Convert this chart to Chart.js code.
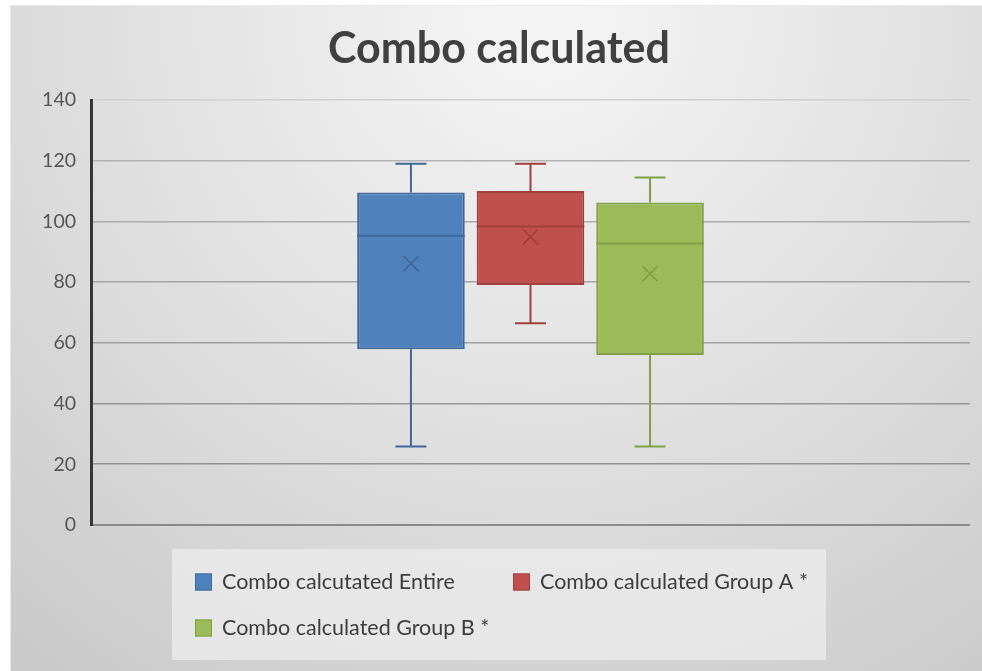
<!DOCTYPE html>
<html>
<head>
<meta charset="utf-8">
<script src="https://cdn.jsdelivr.net/npm/chart.js@4/dist/chart.umd.min.js"></script>
<style>
  html, body { margin: 0; padding: 0; background: #ffffff; }
  #wrap { position: absolute; left: 0; top: 0; width: 982px; height: 671px; }
</style>
</head>
<body>
<div id="wrap"><canvas id="chart" width="982" height="671"></canvas></div>
<script>
// Box-and-whisker summary values per series
const categories = [''];
const seriesLabels = ['Combo calcutated Entire', 'Combo calculated Group A *', 'Combo calculated Group B *'];
const whiskerLow  = [25.9, 66.5, 25.9];
const quartile1   = [57.9, 79.1, 56.0];
const medians     = [95.3, 98.3, 92.7];
const quartile3   = [109.5, 110.0, 106.2];
const whiskerHigh = [119.0, 119.0, 114.5];
const means       = [86.1, 94.9, 82.8];
const yTickValues = [0, 20, 40, 60, 80, 100, 120, 140];

const fillColors   = ['#4f81bd', '#c0504d', '#9bbb59'];
const strokeColors = ['#3f6898', '#a23e3b', '#80a047'];
const FONT = 'Lato, "Open Sans", sans-serif';

// Page background: soft grey radial gradient inside a thin frame
const backgroundPlugin = {
  id: 'panelBackground',
  beforeDraw(chart) {
    const ctx = chart.ctx;
    ctx.save();
    ctx.fillStyle = '#ffffff';
    ctx.fillRect(0, 0, chart.width, chart.height);
    const g = ctx.createRadialGradient(540, 10, 40, 540, 10, 900);
    g.addColorStop(0, '#f4f4f4');
    g.addColorStop(0.45, '#e0e0e0');
    g.addColorStop(1, '#c6c6c6');
    ctx.fillStyle = g;
    ctx.fillRect(10, 5, chart.width - 10, chart.height - 5);
    ctx.strokeStyle = '#e9e9e9';
    ctx.lineWidth = 1;
    ctx.strokeRect(10.5, 5.5, chart.width - 10, chart.height - 5);
    ctx.restore();
  }
};

// Whiskers, caps, median line and mean marker for each box
const boxDetailsPlugin = {
  id: 'boxDetails',
  afterDatasetsDraw(chart) {
    const ctx = chart.ctx;
    const y = chart.scales.y;
    chart.data.datasets.forEach((ds, i) => {
      const meta = chart.getDatasetMeta(i);
      if (meta.hidden) return;
      const el = meta.data[0];
      const cx = el.x;
      const half = el.width / 2;
      const capHalf = 15.5;
      const yLow = y.getPixelForValue(whiskerLow[i]);
      const yQ1 = y.getPixelForValue(quartile1[i]);
      const yMed = y.getPixelForValue(medians[i]);
      const yQ3 = y.getPixelForValue(quartile3[i]);
      const yHigh = y.getPixelForValue(whiskerHigh[i]);
      const yMean = y.getPixelForValue(means[i]);
      ctx.save();
      ctx.strokeStyle = strokeColors[i];
      ctx.lineWidth = 2;
      ctx.beginPath();
      // upper whisker and cap
      ctx.moveTo(cx, yQ3); ctx.lineTo(cx, yHigh);
      ctx.moveTo(cx - capHalf, yHigh); ctx.lineTo(cx + capHalf, yHigh);
      // lower whisker and cap
      ctx.moveTo(cx, yQ1); ctx.lineTo(cx, yLow);
      ctx.moveTo(cx - capHalf, yLow); ctx.lineTo(cx + capHalf, yLow);
      // median
      ctx.moveTo(cx - half, yMed); ctx.lineTo(cx + half, yMed);
      ctx.stroke();
      // mean marker (x)
      const m = 7.5;
      ctx.lineWidth = 1.8;
      ctx.beginPath();
      ctx.moveTo(cx - m, yMean - m); ctx.lineTo(cx + m, yMean + m);
      ctx.moveTo(cx - m, yMean + m); ctx.lineTo(cx + m, yMean - m);
      ctx.stroke();
      ctx.restore();
    });
  }
};

// Boxed legend under the plot, two entries per row
const legendBoxPlugin = {
  id: 'legendBox',
  afterDraw(chart) {
    const ctx = chart.ctx;
    ctx.save();
    ctx.fillStyle = 'rgba(234,234,234,0.85)';
    ctx.fillRect(172, 549, 654, 111);
    const slots = [[195, 582], [513, 582], [195, 628]];
    chart.data.datasets.forEach((ds, i) => {
      const [lx, ly] = slots[i];
      ctx.fillStyle = ds.backgroundColor;
      ctx.fillRect(lx, ly - 8.5, 17, 17);
      ctx.strokeStyle = ds.borderColor;
      ctx.lineWidth = 1;
      ctx.strokeRect(lx + 0.5, ly - 8, 16, 16);
      ctx.fillStyle = '#3c3c3c';
      ctx.font = '21.5px ' + FONT;
      ctx.textBaseline = 'middle';
      ctx.textAlign = 'left';
      ctx.fillText(ds.label, lx + 27, ly);
    });
    ctx.restore();
  }
};

const datasets = seriesLabels.map((label, i) => ({
  label,
  data: [[quartile1[i], quartile3[i]]],
  backgroundColor: fillColors[i],
  borderColor: strokeColors[i],
  borderWidth: 2,
  borderSkipped: false,
  categoryPercentage: 0.408,
  barPercentage: 0.9
}));

new Chart(document.getElementById('chart'), {
  type: 'bar',
  data: { labels: categories, datasets },
  plugins: [backgroundPlugin, boxDetailsPlugin, legendBoxPlugin],
  options: {
    responsive: false,
    animation: false,
    layout: { padding: { left: 28, right: 12, top: 5, bottom: 146 } },
    plugins: {
      legend: { display: false },
      tooltip: { enabled: false },
      title: {
        display: true,
        text: 'Combo calculated',
        color: '#404040',
        font: { family: FONT, size: 43, weight: 'bold' },
        padding: { top: 18, bottom: 25.4 }
      }
    },
    scales: {
      x: { display: false },
      y: {
        min: 0,
        max: 140,
        afterBuildTicks(scale) { scale.ticks = yTickValues.map(v => ({ value: v })); },
        afterFit(scale) { scale.width = 63; },
        ticks: {
          color: '#555555',
          font: { family: FONT, size: 19.5 },
          padding: 15
        },
        grid: {
          drawTicks: false,
          lineWidth: ctx => (ctx.tick && ctx.tick.value === 0 ? 2 : 1.6),
          color: ctx => {
            const v = ctx.tick ? ctx.tick.value : 0;
            if (v === 0) return '#8a8a8a';
            if (v === 140) return '#d0d0d0';
            const shade = Math.round(0x92 + (v - 20) * 0.32);
            return 'rgb(' + shade + ',' + shade + ',' + shade + ')';
          }
        },
        border: { display: true, color: '#363636', width: 3 }
      }
    }
  }
});
</script>
</body>
</html>
